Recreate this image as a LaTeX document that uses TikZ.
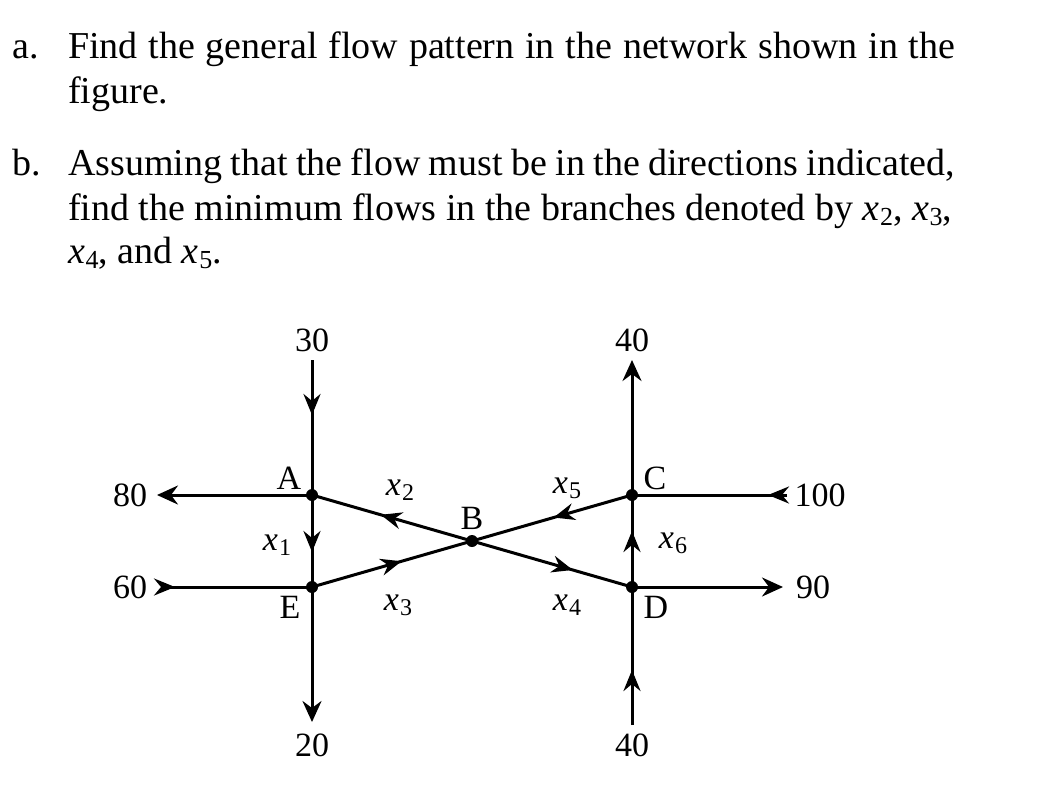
\documentclass[tikz,border=0pt]{standalone}
\usepackage{fontspec}
\setmainfont{Liberation Serif}
\usetikzlibrary{arrows.meta,decorations.markings}
\newcommand{\xv}[1]{\textit{x}\kern1pt\raisebox{-0.3ex}{\fontsize{24}{24}\selectfont #1}}
\newcommand{\xt}[1]{\textit{x}\kern0.5pt\raisebox{-0.3ex}{\fontsize{26}{26}\selectfont #1}}
\tikzset{
  wire/.style={line width=3pt},
  endtip/.style={-{Stealth[length=21pt,width=19pt,inset=7pt]}},
  dot/.style={circle,fill=black,inner sep=0pt,minimum size=12pt},
  lbl/.style={font=\fontsize{34}{34}\selectfont,inner sep=0pt},
  txt/.style={font=\fontsize{38}{45}\selectfont,inner sep=0pt,anchor=base west},
  midtip/.style={postaction={decorate},decoration={markings,mark=at position #1 with {\arrow{Stealth[length=21pt,width=17pt,inset=7pt]}}}}
}
\begin{document}
\begin{tikzpicture}[x=1pt,y=-1pt]
\useasboundingbox (0,0) rectangle (1046,790);
% text
\node[txt] (la) at (12,58) {a.};
\node[txt] (t1) at (68,58) {\makebox[887pt][s]{Find the general flow pattern in the network shown in the}};
\node[txt] (t2) at (68,103) {figure.};
\node[txt] (lb) at (12,175) {b.};
\node[txt] (t3) at (68,175) {\makebox[887pt][s]{Assuming that the flow must be in the directions indicated,}};
\node[txt] (t4) at (68,220) {find the minimum flows in the branches denoted by \xt{2}, \xt{3},};
\node[txt] (t5) at (68,263) {\xt{4}, and \xt{5}.};
% junctions
\node[dot] (A) at (312,495) {};
\node[dot] (E) at (312,587) {};
\node[dot] (B) at (472,541) {};
\node[dot] (C) at (632,495) {};
\node[dot] (D) at (632,587) {};
% free ends
\coordinate (Atop) at (312,360);
\coordinate (W80) at (157,495);
\coordinate (W60) at (165,587);
\coordinate (S20) at (312,722);
\coordinate (Ctop) at (632,360);
\coordinate (E100) at (787,495);
\coordinate (E90) at (783,587);
\coordinate (Dbot) at (632,725);
% connectors
\draw[wire,midtip=55pt] (Atop) -- (A.center);
\draw[wire,endtip] (A.center) -- (W80);
\draw[wire,midtip=10pt] (W60) -- (E.center);
\draw[wire,midtip=57pt] (A.center) -- (E.center);
\draw[wire,endtip] (E.center) -- (S20);
\draw[wire,midtip=0.57] (B.center) -- (A.center);
\draw[wire,midtip=0.56] (E.center) -- (B.center);
\draw[wire,midtip=0.49] (C.center) -- (B.center);
\draw[wire,midtip=0.63] (B.center) -- (D.center);
\draw[wire,endtip] (C.center) -- (Ctop);
\draw[wire,midtip=19pt] (E100) -- (C.center);
\draw[wire,midtip=56pt] (D.center) -- (C.center);
\draw[wire,endtip] (D.center) -- (E90);
\draw[wire,midtip=55pt] (Dbot) -- (D.center);
% labels
\node[lbl] (n30) at (312,340) {30};
\node[lbl] (n40t) at (632,340) {40};
\node[lbl] (n80) at (130,495) {80};
\node[lbl] (n60) at (130,587) {60};
\node[lbl] (n100) at (820,495) {100};
\node[lbl] (n90) at (813,587) {90};
\node[lbl] (n20) at (312,745) {20};
\node[lbl] (n40b) at (632,745) {40};
\node[lbl] (lA) at (289,478) {A};
\node[lbl] (lB) at (472,518) {B};
\node[lbl] (lC) at (655,478) {C};
\node[lbl] (lD) at (656,607) {D};
\node[lbl] (lE) at (290,607) {E};
\node[lbl] (x1) at (277,545) {\xv{1}};
\node[lbl] (x2) at (400,490) {\xv{2}};
\node[lbl] (x3) at (398,605) {\xv{3}};
\node[lbl] (x4) at (567,605) {\xv{4}};
\node[lbl] (x5) at (567,488) {\xv{5}};
\node[lbl] (x6) at (673,543) {\xv{6}};
\end{tikzpicture}
\end{document}
